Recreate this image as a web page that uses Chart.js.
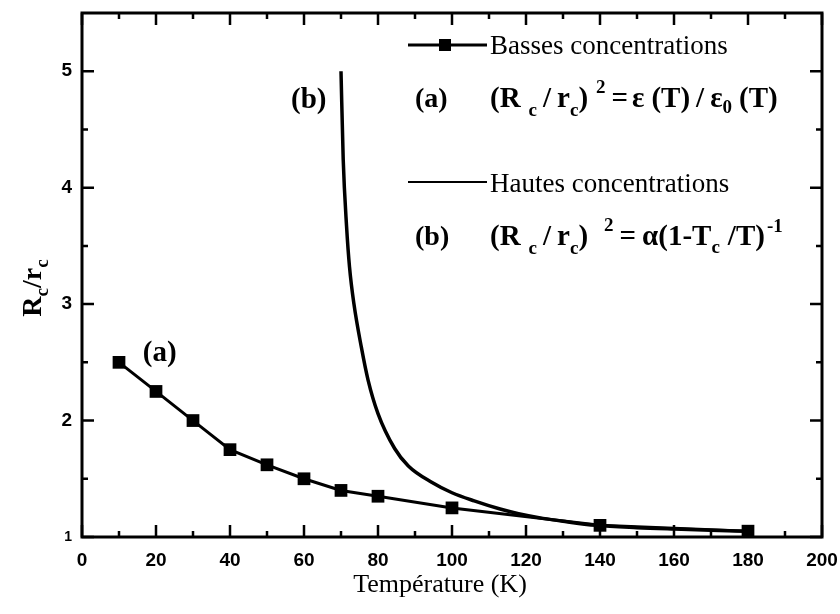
<!DOCTYPE html>
<html>
<head>
<meta charset="utf-8">
<script src="https://cdn.jsdelivr.net/npm/chart.js@4/dist/chart.umd.min.js"></script>
<style>
  html, body { margin: 0; padding: 0; background: #fff; }
  canvas { display: block; }
</style>
</head>
<body>
<canvas id="chart" width="840" height="614"></canvas>
<script>
// Low-concentration measurements, curve (a)
const temperaturesLow = [10, 20, 30, 40, 50, 60, 70, 80, 100, 140, 180];
const ratioLow = [2.5, 2.25, 2.0, 1.75, 1.62, 1.5, 1.4, 1.35, 1.25, 1.1, 1.05];

// High-concentration curve (b), sampled along the line
const temperaturesHigh = [70, 70.6, 71.5, 72.3, 73.5, 75.5, 77.3, 80, 84.5, 88.2, 94.5, 100, 106, 113, 118, 124.6, 130, 139, 150, 160, 170, 180];
const ratioHigh = [5.0, 4.24, 3.67, 3.32, 3.0, 2.63, 2.35, 2.06, 1.76, 1.61, 1.47, 1.38, 1.31, 1.24, 1.20, 1.16, 1.135, 1.10, 1.08, 1.068, 1.058, 1.05];

// Axis ticks
const xMajorTicks = [0, 20, 40, 60, 80, 100, 120, 140, 160, 180, 200];
const xMinorTicks = [10, 30, 50, 70, 90, 110, 130, 150, 170, 190];
const yMajorTicks = [1, 2, 3, 4, 5];
const yMinorTicks = [1.5, 2.5, 3.5, 4.5];

// Text anchors for the curve names, in data units
const curveLabels = [
  { text: '(a)', x: 21, y: 2.58 },
  { text: '(b)', x: 61.3, y: 4.75 }
];

const SERIF = '"Liberation Serif", "Times New Roman", serif';
const SANS = '"Liberation Sans", Arial, sans-serif';

// Draws a run of text pieces (normal, subscript, superscript) left to right
function drawRun(ctx, x, y, parts) {
  let cx = x;
  ctx.textAlign = 'left';
  ctx.textBaseline = 'alphabetic';
  for (const p of parts) {
    cx += p.gap || 0;
    ctx.font = p.font;
    ctx.fillText(p.t, cx, y + (p.dy || 0));
    cx += ctx.measureText(p.t).width;
  }
  return cx;
}

const frameAndDecor = {
  id: 'frameAndDecor',
  afterDraw(chart) {
    const { ctx, chartArea: a, scales: { x, y } } = chart;
    ctx.save();
    ctx.strokeStyle = '#000';
    ctx.fillStyle = '#000';

    // frame
    ctx.lineWidth = 3;
    ctx.strokeRect(a.left, a.top, a.right - a.left, a.bottom - a.top);

    // inward ticks on all four sides
    const majorLen = 12, minorLen = 6;
    ctx.lineWidth = 2.5;
    ctx.beginPath();
    const xt = (v, len) => {
      const px = x.getPixelForValue(v);
      ctx.moveTo(px, a.bottom); ctx.lineTo(px, a.bottom - len);
      ctx.moveTo(px, a.top); ctx.lineTo(px, a.top + len);
    };
    const yt = (v, len) => {
      const py = y.getPixelForValue(v);
      ctx.moveTo(a.left, py); ctx.lineTo(a.left + len, py);
      ctx.moveTo(a.right, py); ctx.lineTo(a.right - len, py);
    };
    xMajorTicks.forEach(v => xt(v, majorLen));
    xMinorTicks.forEach(v => xt(v, minorLen));
    yMajorTicks.forEach(v => yt(v, majorLen));
    yMinorTicks.forEach(v => yt(v, minorLen));
    ctx.stroke();

    // curve names
    ctx.font = 'bold 29px ' + SERIF;
    ctx.textAlign = 'center';
    ctx.textBaseline = 'middle';
    curveLabels.forEach(l => ctx.fillText(l.text, x.getPixelForValue(l.x), y.getPixelForValue(l.y)));

    // legend
    const main = 'bold 29px ' + SERIF;
    const small = 'bold 19px ' + SERIF;
    const plain = '27px ' + SERIF;
    const lx0 = 408, lx1 = 487, tx = 490;

    // row 1: line with square marker
    ctx.lineWidth = 3;
    ctx.beginPath();
    ctx.moveTo(lx0, 45); ctx.lineTo(lx1, 45);
    ctx.stroke();
    ctx.fillRect(445 - 6, 45 - 6, 12, 12);
    ctx.font = plain;
    ctx.textAlign = 'left';
    ctx.textBaseline = 'alphabetic';
    ctx.fillText('Basses concentrations', tx, 54);

    // row 2: formula (a)
    ctx.font = 'bold 28px ' + SERIF;
    ctx.fillText('(a)', 415, 107);
    drawRun(ctx, tx, 107, [
      { t: '(R', font: main },
      { t: 'c', font: small, dy: 9, gap: 8 },
      { t: '/', font: main, gap: 6 },
      { t: 'r', font: main, gap: 6 },
      { t: 'c', font: small, dy: 9 },
      { t: ')', font: main },
      { t: '2', font: small, dy: -14, gap: 8 },
      { t: '=', font: main, gap: 6 },
      { t: 'ε', font: main, gap: 4 },
      { t: '(T)', font: main, gap: 7 },
      { t: '/', font: main, gap: 6 },
      { t: 'ε', font: main, gap: 6 },
      { t: '0', font: small, dy: 6 },
      { t: '(T)', font: main, gap: 7 }
    ]);

    // row 3: plain line
    ctx.lineWidth = 2;
    ctx.beginPath();
    ctx.moveTo(lx0, 182); ctx.lineTo(lx1, 182);
    ctx.stroke();
    ctx.font = plain;
    ctx.fillText('Hautes concentrations', tx, 192);

    // row 4: formula (b)
    ctx.font = 'bold 28px ' + SERIF;
    ctx.fillText('(b)', 415, 245);
    drawRun(ctx, tx, 245, [
      { t: '(R', font: main },
      { t: 'c', font: small, dy: 9, gap: 8 },
      { t: '/', font: main, gap: 6 },
      { t: 'r', font: main, gap: 6 },
      { t: 'c', font: small, dy: 9 },
      { t: ')', font: main },
      { t: '2', font: small, dy: -14, gap: 16 },
      { t: '=', font: main, gap: 6 },
      { t: 'α(1-T', font: main, gap: 6 },
      { t: 'c', font: small, dy: 8 },
      { t: '/T)', font: main, gap: 8 },
      { t: '-1', font: small, dy: -13, gap: 2 }
    ]);

    // axis titles
    ctx.font = '26px ' + SERIF;
    ctx.textAlign = 'center';
    ctx.textBaseline = 'middle';
    ctx.fillText('Température (K)', 440, 585);

    ctx.translate(32, 288);
    ctx.rotate(-Math.PI / 2);
    const big = 'bold 28px ' + SERIF;
    const sub = 'bold 19px ' + SERIF;
    const yTitle = [
      { t: 'R', font: big }, { t: 'c', font: sub, dy: 7 },
      { t: '/', font: big }, { t: 'r', font: big }, { t: 'c', font: sub, dy: 7 }
    ];
    let w = 0;
    yTitle.forEach(p => { ctx.font = p.font; w += ctx.measureText(p.t).width; });
    drawRun(ctx, -w / 2, 9, yTitle);

    ctx.restore();
  }
};

const tickFont = { family: SANS, size: 19, weight: 'bold' };

new Chart(document.getElementById('chart'), {
  type: 'line',
  data: {
    datasets: [
      {
        label: 'Basses concentrations',
        data: temperaturesLow.map((t, i) => ({ x: t, y: ratioLow[i] })),
        borderColor: '#000',
        backgroundColor: '#000',
        borderWidth: 3,
        pointStyle: 'rect',
        pointRadius: 9,
        pointBorderWidth: 0,
        pointBackgroundColor: '#000',
        tension: 0
      },
      {
        label: 'Hautes concentrations',
        data: temperaturesHigh.map((t, i) => ({ x: t, y: ratioHigh[i] })),
        borderColor: '#000',
        borderWidth: 3.5,
        pointRadius: 0,
        cubicInterpolationMode: 'monotone'
      }
    ]
  },
  options: {
    responsive: false,
    animation: false,
    layout: { padding: { top: 13, right: 18, left: 0, bottom: 0 } },
    plugins: { legend: { display: false }, tooltip: { enabled: false } },
    scales: {
      x: {
        type: 'linear',
        min: 0, max: 200,
        afterBuildTicks: s => { s.ticks = xMajorTicks.map(v => ({ value: v })); },
        afterFit: s => { s.height = 77; s.paddingLeft = 0; s.paddingRight = 0; },
        grid: { display: false, drawTicks: false },
        border: { display: false },
        ticks: { font: tickFont, color: '#000', padding: 12, maxRotation: 0 }
      },
      y: {
        type: 'linear',
        min: 1, max: 5.5,
        afterBuildTicks: s => { s.ticks = yMajorTicks.map(v => ({ value: v })); },
        afterFit: s => { s.width = 82; s.paddingTop = 0; s.paddingBottom = 0; },
        grid: { display: false, drawTicks: false },
        border: { display: false },
        ticks: {
          color: '#000',
          padding: 10,
          // the corner label "1" is set smaller than the other values
          font: c => (c.tick && c.tick.value === 1) ? { ...tickFont, size: 14 } : tickFont
        }
      }
    }
  },
  plugins: [frameAndDecor]
});
</script>
</body>
</html>
